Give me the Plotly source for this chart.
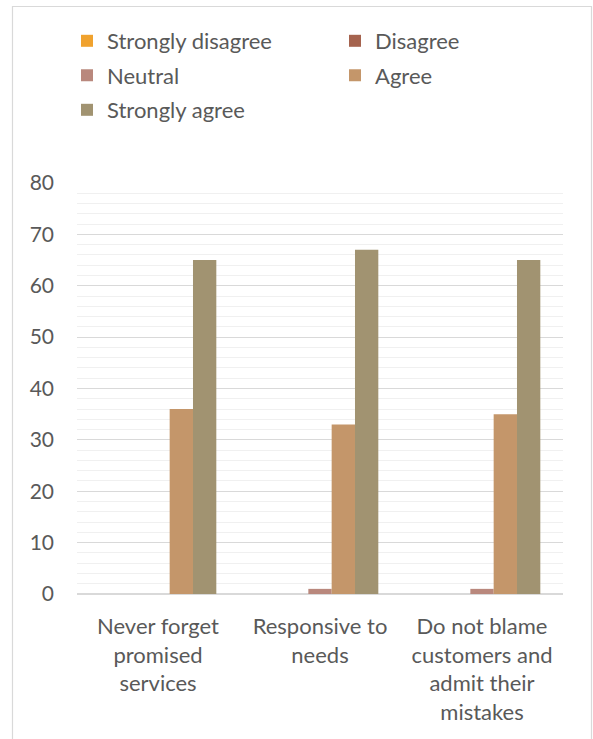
import plotly.graph_objects as go

categories = ["Never forget<br>promised<br>services", "Responsive to<br>needs",
              "Do not blame<br>customers and<br>admit their<br>mistakes"]
series_names = ["Strongly disagree", "Disagree", "Neutral", "Agree", "Strongly agree"]
strongly_disagree = [0, 0, 0]
disagree = [0, 0, 0]
neutral = [0, 1, 1]
agree = [36, 33, 35]
strongly_agree = [65, 67, 65]
colors = ["#F0A22E", "#A5634E", "#B9887D", "#C4966A", "#A19371"]

W, H = 593, 739
L, R, T, B = 77, 30, 183, 145
pw, ph = W - L - R, H - T - B

def px_x(x):
    return (x - L) / pw

def px_y(y):
    return (H - B - y) / ph

font_family = "Lato, Open Sans, sans-serif"
text_color = "#595959"

fig = go.Figure()
values = [strongly_disagree, disagree, neutral, agree, strongly_agree]
legend_ids = ["legend", "legend2", "legend3", "legend4", "legend5"]
for name, vals, col, lg in zip(series_names, values, colors, legend_ids):
    fig.add_trace(go.Bar(x=categories, y=vals, name=name, marker=dict(color=col, line=dict(width=0)),
                         legend=lg, showlegend=True))

# legend positions (pixel) for each item: col1/col2, rows
leg_pos = [(67, 41), (335, 41), (67, 75.5), (335, 75.5), (67, 110)]
leg_layout = {}
for lg, (x, y) in zip(legend_ids, leg_pos):
    leg_layout[lg] = dict(x=px_x(x), y=px_y(y), xanchor="left", yanchor="middle",
                          orientation="h", font=dict(family=font_family, size=22, color=text_color),
                          bgcolor="rgba(0,0,0,0)", borderwidth=0, visible=True)

fig.update_layout(
    width=W, height=H,
    margin=dict(l=L, r=R, t=T, b=B),
    paper_bgcolor="white", plot_bgcolor="white",
    barmode="group", bargap=0.28, bargroupgap=0,
    showlegend=True,
    font=dict(family=font_family, color=text_color),
    **leg_layout,
)
fig.update_yaxes(range=[0, 80], dtick=10, showgrid=True, gridcolor="#d9d9d9", gridwidth=1,
                 zeroline=True, zerolinecolor="#d9d9d9", zerolinewidth=1.5, showline=False,
                 tickfont=dict(family=font_family, size=21, color=text_color),
                 ticklabelstandoff=22,
                 minor=dict(dtick=2, showgrid=True, gridcolor="#f0f0f0", gridwidth=1))
fig.update_xaxes(showgrid=False, showline=False, ticks="",
                 tickfont=dict(family=font_family, size=22, color=text_color),
                 ticklabelstandoff=17, tickangle=0)

fig.add_shape(type="rect", xref="paper", yref="paper",
              x0=px_x(12.5), x1=px_x(591.5), y0=px_y(750), y1=px_y(6.5),
              line=dict(color="#d9d9d9", width=1.2), fillcolor="rgba(0,0,0,0)", layer="below")

fig.write_html("out.html")
